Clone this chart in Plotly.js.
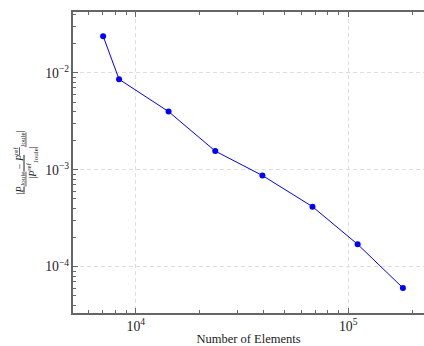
<!DOCTYPE html>
<html>
<head>
<meta charset="utf-8">
<script src="https://cdn.plot.ly/plotly-3.0.1.min.js"></script>
<style>html,body{margin:0;padding:0;background:#fff;}#chart{width:424px;height:346px;}</style>
</head>
<body>
<div id="chart"></div>
<script>
const numElements = [7015, 8340, 14260, 23660, 39450, 67900, 110800, 181000];
const relError = [0.024, 0.0086, 0.00399, 0.00156, 0.000873, 0.000416, 0.000170, 0.0000603];
const xTitle = 'Number of Elements';
const yTitle = '<u>|<i>P</i><sub>Joule</sub> − <i>P</i><sup>ref</sup><sub>Joule</sub>|</u><br>|<i>P</i><sup>ref</sup><sub>Joule</sub>|';

const fontFam = '"Liberation Serif", "DejaVu Serif", serif';
const axisCommon = {
  type: 'log',
  showline: true, linecolor: '#666', linewidth: 1.6,
  ticks: 'inside', ticklen: 5, tickcolor: '#666',
  showgrid: true, gridcolor: '#dedede', griddash: '4px,3px', gridwidth: 1,
  zeroline: false,
  dtick: 1,
  exponentformat: 'power',
  tickfont: {family: fontFam, size: 11, color: '#222'},
  minor: {ticks: 'inside', ticklen: 3, tickcolor: '#666', dtick: 'D1', showgrid: false}
};

const trace = {
  x: numElements, y: relError,
  type: 'scatter', mode: 'lines+markers',
  line: {color: '#0000ff', width: 1},
  marker: {color: '#0000ff', size: 6}
};

const layout = {
  width: 424, height: 346,
  margin: {l: 73, r: 0, t: 12, b: 33},
  paper_bgcolor: '#fff', plot_bgcolor: '#fff',
  showlegend: false,
  xaxis: Object.assign({}, axisCommon, {
    mirror: 'allticks',
    range: [Math.log10(5060), Math.log10(227500)],
    title: {text: xTitle, font: {family: fontFam, size: 12.5, color: '#222'}, standoff: 5}
  }),
  yaxis: Object.assign({}, axisCommon, {
    mirror: false,
    range: [Math.log10(3.32e-5), Math.log10(0.0426)],
    title: {text: yTitle, font: {family: fontFam, size: 10, color: '#222'}, standoff: 7}
  })
};

Plotly.newPlot('chart', [trace], layout, {staticPlot: true, displayModeBar: false});
</script>
</body>
</html>
